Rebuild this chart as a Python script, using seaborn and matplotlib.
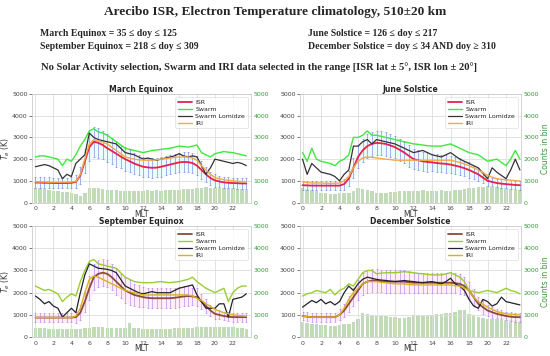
import numpy as np
import matplotlib
matplotlib.use("Agg")
import matplotlib.pyplot as plt
import seaborn as sns

# MLT bin centres (half-hour bins)
mlt = [0.0, 0.5, 1.0, 1.5, 2.0, 2.5, 3.0, 3.5, 4.0, 4.5, 5.0, 5.5,
       6.0, 6.5, 7.0, 7.5, 8.0, 8.5, 9.0, 9.5, 10.0, 10.5, 11.0, 11.5,
       12.0, 12.5, 13.0, 13.5, 14.0, 14.5, 15.0, 15.5, 16.0, 16.5, 17.0, 17.5,
       18.0, 18.5, 19.0, 19.5, 20.0, 20.5, 21.0, 21.5, 22.0, 22.5, 23.0, 23.5]
mlt_ticks = [0, 2, 4, 6, 8, 10, 12, 14, 16, 18, 20, 22]

# March Equinox
mar_isr = [920, 920, 910, 910, 900, 900, 900, 900, 910, 950, 1250, 1900,
           2550, 2800, 2750, 2650, 2500, 2380, 2250, 2120, 2000, 1900, 1800, 1720,
           1650, 1620, 1600, 1610, 1650, 1700, 1750, 1800, 1850, 1870, 1860, 1820,
           1700, 1500, 1300, 1130, 1020, 970, 930, 910, 900, 890, 880, 880]
mar_swarm = [2100, 2150, 2150, 2100, 2050, 2000, 1700, 2000, 1900, 2200, 2600, 2900,
             3300, 3400, 3250, 3200, 3100, 2950, 2800, 2650, 2500, 2450, 2400, 2350,
             2300, 2350, 2400, 2420, 2450, 2480, 2500, 2550, 2600, 2580, 2550, 2600,
             2650, 2300, 2200, 2100, 2250, 2300, 2350, 2320, 2300, 2250, 2200, 2150]
mar_lomidze = [1650, 1700, 1750, 1700, 1600, 1500, 1100, 1300, 1200, 1800, 2000, 2200,
               3200, 3000, 2900, 2850, 2800, 2750, 2700, 2500, 2300, 2250, 2200, 2100,
               2000, 2050, 2000, 1950, 2000, 2050, 2100, 2150, 2250, 2150, 2100, 2150,
               2100, 1700, 1300, 1600, 2000, 1950, 1900, 1850, 1800, 1850, 1800, 1700]
mar_iri = [950, 950, 950, 940, 940, 940, 940, 940, 950, 970, 1300, 2000,
           2700, 2900, 2850, 2780, 2700, 2550, 2400, 2250, 2100, 2050, 2000, 1970,
           1950, 1950, 1950, 1970, 2000, 2020, 2050, 2080, 2100, 2100, 2100, 2050,
           1950, 1700, 1500, 1300, 1150, 1100, 1050, 1020, 1000, 980, 960, 950]
mar_err = [250, 250, 250, 250, 250, 250, 250, 250, 250, 300, 400, 550,
           650, 700, 700, 650, 650, 600, 600, 550, 550, 500, 500, 450,
           450, 450, 450, 450, 450, 450, 450, 450, 450, 450, 450, 450,
           450, 400, 350, 300, 300, 250, 250, 250, 250, 250, 250, 250]
mar_counts = [650, 650, 620, 600, 550, 520, 500, 480, 450, 400, 300, 450,
              650, 680, 650, 640, 600, 580, 560, 550, 550, 540, 550, 540,
              550, 560, 550, 560, 550, 570, 580, 590, 600, 620, 630, 640,
              650, 680, 700, 690, 680, 670, 660, 650, 650, 640, 620, 600]

# June Solstice
jun_isr = [800, 790, 780, 780, 780, 780, 780, 780, 780, 850, 1100, 1600,
           2100, 2400, 2600, 2700, 2750, 2730, 2700, 2630, 2550, 2430, 2300, 2150,
           2000, 1950, 1900, 1870, 1850, 1820, 1800, 1780, 1750, 1700, 1650, 1580,
           1500, 1400, 1300, 1150, 1000, 950, 900, 870, 850, 830, 810, 800]
jun_swarm = [2300, 1900, 2500, 2000, 1900, 1850, 1800, 1700, 1900, 2000, 2200, 3000,
             3000, 3100, 3300, 3100, 3100, 3050, 3000, 2950, 2900, 2850, 2800, 2750,
             2700, 2680, 2650, 2620, 2600, 2600, 2600, 2650, 2700, 2600, 2500, 2400,
             2300, 2250, 2200, 2050, 1900, 1950, 2000, 1850, 1700, 2000, 2400, 2000]
jun_lomidze = [2000, 1300, 1800, 1600, 1400, 1350, 1300, 1200, 1000, 1300, 1500, 2600,
               2600, 2800, 2900, 2700, 2900, 2850, 2800, 2750, 2700, 2600, 2500, 2400,
               2300, 2350, 2400, 2300, 2200, 2150, 2100, 2200, 2300, 2150, 2000, 1900,
               1800, 1700, 1600, 1350, 1100, 1600, 1400, 1250, 1100, 1500, 2000, 1500]
jun_iri = [950, 930, 900, 900, 900, 890, 880, 890, 900, 1000, 1200, 1600,
           1900, 2050, 2100, 2080, 2050, 2020, 2000, 1980, 1950, 1950, 1950, 1950,
           1950, 1950, 1950, 1950, 1950, 1950, 1950, 1950, 1950, 1900, 1850, 1780,
           1700, 1600, 1500, 1380, 1250, 1170, 1100, 1070, 1050, 1030, 1010, 1000]
jun_err = [200, 200, 200, 200, 200, 200, 200, 200, 200, 250, 350, 450,
           500, 550, 550, 550, 550, 550, 550, 550, 500, 500, 500, 500,
           450, 450, 450, 450, 400, 400, 400, 400, 400, 400, 400, 350,
           350, 300, 300, 250, 250, 200, 200, 200, 200, 200, 200, 200]
jun_counts = [650, 640, 600, 520, 450, 420, 400, 400, 420, 440, 450, 550,
              650, 640, 600, 520, 450, 450, 450, 480, 500, 520, 540, 550,
              550, 550, 560, 550, 550, 550, 560, 550, 550, 580, 600, 620,
              650, 680, 700, 720, 750, 730, 700, 680, 650, 630, 600, 600]

# September Equinox
sep_isr = [880, 880, 880, 880, 880, 880, 880, 880, 880, 900, 1100, 1600,
           2200, 2700, 2850, 2900, 2850, 2700, 2500, 2300, 2100, 2000, 1900, 1850,
           1800, 1770, 1750, 1750, 1750, 1750, 1750, 1770, 1800, 1830, 1850, 1830,
           1800, 1600, 1400, 1200, 1050, 1000, 950, 920, 900, 900, 900, 900]
sep_swarm = [2300, 2200, 2100, 2150, 2050, 1950, 1600, 1800, 1950, 1850, 2500, 3000,
             3400, 3500, 3300, 3250, 3200, 3150, 3100, 2900, 2700, 2600, 2500, 2470,
             2450, 2450, 2450, 2480, 2500, 2470, 2450, 2480, 2500, 2550, 2600, 2700,
             2500, 2350, 2200, 2100, 2000, 2100, 2200, 1600, 2000, 2200, 2300, 2300]
sep_lomidze = [1850, 1700, 1500, 1600, 1400, 1300, 900, 1100, 1300, 1100, 2000, 2800,
               3300, 3200, 3100, 3080, 3050, 3000, 2900, 2600, 2300, 2200, 2100, 2000,
               1950, 2000, 2050, 2000, 2000, 2000, 2000, 2100, 2200, 2250, 2300, 2350,
               1900, 1600, 1300, 1300, 1300, 1500, 1500, 900, 1700, 1750, 1800, 1950]
sep_iri = [880, 880, 880, 880, 880, 880, 880, 880, 880, 950, 1300, 2000,
           2600, 2750, 2700, 2600, 2500, 2400, 2300, 2200, 2100, 2050, 2000, 1950,
           1900, 1900, 1900, 1900, 1900, 1900, 1900, 1900, 1900, 1900, 1900, 1850,
           1750, 1650, 1500, 1380, 1250, 1170, 1100, 1050, 1000, 980, 960, 950]
sep_err = [200, 200, 200, 200, 200, 200, 200, 200, 200, 250, 350, 450,
           550, 600, 600, 600, 600, 600, 600, 550, 550, 550, 500, 500,
           450, 450, 450, 450, 450, 450, 450, 450, 450, 450, 450, 400,
           400, 350, 300, 250, 250, 200, 200, 200, 200, 200, 200, 200]
sep_counts = [400, 400, 390, 380, 380, 370, 370, 360, 350, 350, 360, 400,
              430, 450, 450, 440, 430, 420, 410, 400, 400, 650, 400, 390,
              380, 380, 370, 370, 370, 380, 380, 390, 400, 400, 410, 420,
              450, 460, 460, 460, 460, 450, 450, 450, 450, 430, 400, 380]

# December Solstice
dec_isr = [950, 920, 900, 900, 900, 900, 900, 900, 1000, 1200, 1500, 1800,
           2100, 2400, 2500, 2550, 2550, 2520, 2500, 2500, 2500, 2500, 2500, 2470,
           2450, 2450, 2450, 2450, 2450, 2450, 2450, 2450, 2450, 2430, 2400, 2300,
           2100, 1800, 1500, 1350, 1200, 1120, 1050, 1000, 950, 920, 900, 900]
dec_swarm = [1850, 1950, 2000, 2100, 2050, 2000, 2150, 1900, 2100, 2200, 2400, 2300,
             2600, 2900, 3000, 3000, 2850, 2880, 2900, 2900, 2900, 2920, 2950, 2920,
             2900, 2870, 2850, 2820, 2800, 2800, 2800, 2850, 2900, 2800, 2700, 2500,
             2100, 2050, 2000, 2050, 2100, 2050, 2000, 2100, 2200, 2100, 2050, 1950]
dec_lomidze = [1350, 1500, 1650, 1550, 1700, 1500, 1600, 1450, 1600, 2000, 2300, 2100,
               2400, 2600, 2700, 2650, 2600, 2570, 2550, 2520, 2500, 2520, 2550, 2520,
               2500, 2470, 2450, 2480, 2500, 2450, 2400, 2500, 2650, 2400, 2300, 2100,
               1700, 1400, 1300, 1700, 1600, 1400, 1500, 1800, 1600, 1550, 1500, 1450]
dec_iri = [950, 920, 900, 900, 900, 900, 900, 900, 1000, 1300, 1700, 2000,
           2200, 2400, 2500, 2500, 2500, 2470, 2450, 2420, 2400, 2400, 2400, 2370,
           2350, 2350, 2350, 2350, 2350, 2350, 2350, 2350, 2350, 2320, 2300, 2200,
           2100, 1800, 1600, 1470, 1350, 1250, 1150, 1100, 1050, 1030, 1010, 1000]
dec_err = [200, 200, 200, 200, 200, 200, 200, 200, 250, 300, 350, 400,
           450, 500, 500, 500, 500, 500, 500, 500, 500, 500, 500, 500,
           450, 450, 450, 450, 450, 450, 450, 450, 450, 450, 450, 400,
           400, 350, 300, 300, 250, 250, 200, 200, 200, 200, 200, 200]
dec_counts = [700, 650, 600, 580, 550, 530, 500, 520, 550, 580, 600, 700,
              800, 1100, 1050, 1000, 950, 950, 950, 920, 900, 870, 850, 920,
              1000, 980, 950, 970, 1000, 1020, 1050, 1080, 1100, 1150, 1200, 1200,
              1050, 980, 900, 850, 800, 800, 800, 780, 750, 750, 750, 740]

panels = [
    ("March Equinox", mar_isr, mar_swarm, mar_lomidze, mar_iri, mar_err, mar_counts),
    ("June Solstice", jun_isr, jun_swarm, jun_lomidze, jun_iri, jun_err, jun_counts),
    ("September Equinox", sep_isr, sep_swarm, sep_lomidze, sep_iri, sep_err, sep_counts),
    ("December Solstice", dec_isr, dec_swarm, dec_lomidze, dec_iri, dec_err, dec_counts),
]

top_colors = {"isr": "#e8204a", "swarm": "#3ee83e", "lomidze": "#333333",
              "iri": "#f5a84a", "err": "#4b4bd6", "fill": "#e3fbfb"}
bot_colors = {"isr": "#8b4a3a", "swarm": "#9acd32", "lomidze": "#22222e",
              "iri": "#d9b21f", "err": "#9b4fe8", "fill": "#fde8f6"}

sns.set_style("whitegrid")
plt.rcParams['font.family'] = ['DejaVu Sans']

fig = plt.figure(figsize=(5.5, 3.56), dpi=100)

# left, bottom, width, height in figure fractions
positions = [
    [0.058, 0.431, 0.398, 0.305],
    [0.545, 0.431, 0.402, 0.305],
    [0.058, 0.053, 0.398, 0.312],
    [0.545, 0.053, 0.402, 0.312],
]
xlims = [(-0.4, 24), (-0.3, 23.6), (-0.4, 24), (-0.3, 23.6)]

for i, (name, isr, swarm, lomidze, iri, err, counts) in enumerate(panels):
    c = top_colors if i < 2 else bot_colors
    ax = fig.add_axes(positions[i])
    ax2 = ax.twinx()
    # counts histogram in the back
    ax2.bar(mlt, counts, width=0.38, color="#8fbf7f", alpha=0.55, linewidth=0)
    ax2.set_ylim(0, 5000)
    ax2.set_yticks([0, 1000, 2000, 3000, 4000, 5000])
    ax2.tick_params(axis='y', colors='#3a9a3a', labelsize=4.5, length=0, pad=2)
    ax2.grid(False)
    for s in ax2.spines.values():
        s.set_visible(False)
    if i % 2 == 1:
        ax2.set_ylabel("Counts in bin", color="#3a9a3a", fontsize=5.5, labelpad=1)
    ax.set_zorder(ax2.get_zorder() + 1)
    ax.patch.set_visible(False)

    isr_lo = [v - e for v, e in zip(isr, err)]
    isr_hi = [v + e for v, e in zip(isr, err)]
    ax.fill_between(mlt, isr_lo, isr_hi, color=c["fill"], alpha=0.7, linewidth=0)
    ax.errorbar(mlt, isr, yerr=err, fmt='none', ecolor=c["err"], elinewidth=0.5,
                capsize=1, capthick=0.5, alpha=0.6)
    sns.lineplot(x=mlt, y=isr, ax=ax, color=c["isr"], linewidth=1.3, label="ISR")
    sns.lineplot(x=mlt, y=swarm, ax=ax, color=c["swarm"], linewidth=1.0, label="Swarm")
    sns.lineplot(x=mlt, y=lomidze, ax=ax, color=c["lomidze"], linewidth=0.9,
                 label="Swarm Lomidze")
    sns.lineplot(x=mlt, y=iri, ax=ax, color=c["iri"], linewidth=1.0, label="IRI")

    ax.set_xlim(*xlims[i])
    ax2.set_xlim(*xlims[i])
    ax.set_ylim(0, 5000)
    ax.set_xticks(mlt_ticks)
    ax.set_yticks([0, 1000, 2000, 3000, 4000, 5000])
    ax.tick_params(labelsize=4.5, colors='#444444', length=2, width=0.5, pad=1)
    ax.tick_params(axis='x', pad=0.5)
    ax.grid(True, color='#dddddd', linewidth=0.6)
    for s in ax.spines.values():
        s.set_color('#cccccc')
        s.set_linewidth(0.6)
    ax.set_xlabel("MLT", fontsize=5.5, labelpad=-1, color='#333333')
    if i % 2 == 0:
        ax.set_ylabel(r"$T_e$ (K)", fontsize=5.5, labelpad=0, color='#333333')
    ax.set_title(name, fontsize=5.5, fontweight='bold', pad=1)
    leg = ax.legend(loc='upper right', fontsize=4.5, frameon=True, handlelength=2.2,
                    borderpad=0.4, labelspacing=0.25, handletextpad=0.6)
    leg.get_frame().set_linewidth(0.4)

serif = ['Liberation Serif', 'DejaVu Serif']
fig.text(0.5, 0.966, "Arecibo ISR, Electron Temperature climatology, 510\u00b120 km",
         ha='center', va='center', fontsize=9.6, fontweight='bold', family=serif)
fig.text(0.073, 0.907, "March Equinox = 35 \u2264 doy \u2264 125", ha='left', va='center',
         fontsize=7.0, fontweight='bold', family=serif)
fig.text(0.073, 0.868, "September Equinox = 218 \u2264 doy \u2264 309", ha='left', va='center',
         fontsize=7.0, fontweight='bold', family=serif)
fig.text(0.56, 0.907, "June Solstice = 126 \u2264 doy \u2264 217", ha='left', va='center',
         fontsize=7.0, fontweight='bold', family=serif)
fig.text(0.56, 0.868, "December Solstice = doy \u2264 34 AND doy \u2265 310", ha='left',
         va='center', fontsize=7.0, fontweight='bold', family=serif)
fig.text(0.075, 0.812, "No Solar Activity selection, Swarm and IRI data selected in the range "
         "[ISR lat \u00b1 5\u00b0, ISR lon \u00b1 20\u00b0]", ha='left', va='center',
         fontsize=7.6, fontweight='bold', family=serif)

fig.savefig("out.png", dpi=100)
